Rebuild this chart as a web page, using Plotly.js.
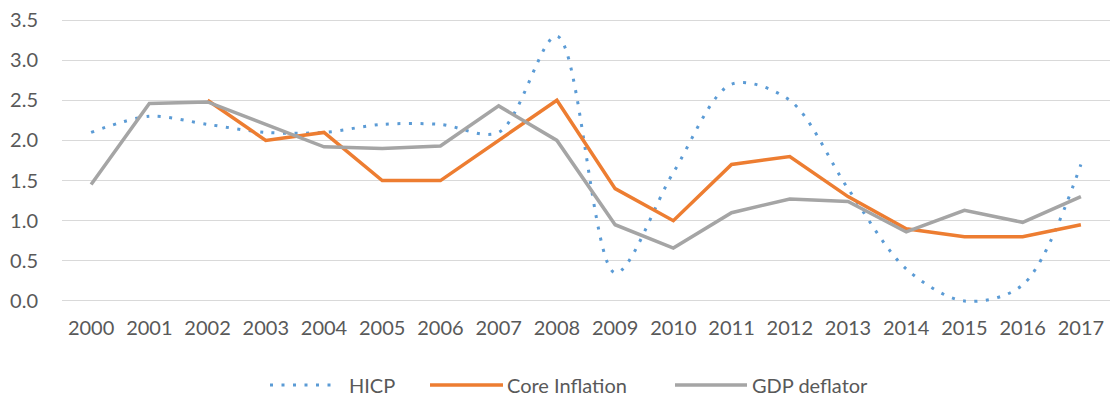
<!DOCTYPE html>
<html>
<head>
<meta charset="utf-8">
<script src="https://cdn.plot.ly/plotly-3.0.1.min.js"></script>
<style>
  html, body { margin: 0; padding: 0; background: #ffffff; }
  #chart { width: 1110px; height: 396px; }
</style>
</head>
<body>
<div id="chart"></div>
<script>
// Annual inflation measures, 2000-2017 (%)
const years = ['2000','2001','2002','2003','2004','2005','2006','2007','2008',
               '2009','2010','2011','2012','2013','2014','2015','2016','2017'];
const hicp = [2.1, 2.3, 2.2, 2.1, 2.1, 2.2, 2.2, 2.1, 3.3,
              0.35, 1.6, 2.7, 2.5, 1.4, 0.4, 0.0, 0.2, 1.7];
const coreInflation = [null, null, 2.5, 2.0, 2.1, 1.5, 1.5, 2.0, 2.5,
                       1.4, 1.0, 1.7, 1.8, 1.3, 0.9, 0.8, 0.8, 0.95];
const gdpDeflator = [1.45, 2.46, 2.48, 2.2, 1.92, 1.9, 1.93, 2.43, 2.0,
                     0.95, 0.66, 1.1, 1.27, 1.24, 0.86, 1.13, 0.98, 1.3];
const yTicks = [0, 0.5, 1, 1.5, 2, 2.5, 3, 3.5];
const yTickText = ['0.0','0.5','1.0','1.5','2.0','2.5','3.0','3.5'];
const seriesNames = ['HICP', 'Core Inflation', 'GDP deflator'];
const seriesColors = ['#5B9BD5', '#ED7D31', '#A5A5A5'];

const textColor = '#595959';
const fontFamily = 'Lato, "Open Sans", sans-serif';
const fontSize = 20;
const hicpDash = '3px,8.5px';

const traces = [
  {
    name: seriesNames[0], x: years, y: hicp, type: 'scatter', mode: 'lines',
    line: { color: seriesColors[0], width: 3, dash: hicpDash, shape: 'spline', smoothing: 0.9 }
  },
  {
    name: seriesNames[1], x: years, y: coreInflation, type: 'scatter', mode: 'lines',
    line: { color: seriesColors[1], width: 3.5 }
  },
  {
    name: seriesNames[2], x: years, y: gdpDeflator, type: 'scatter', mode: 'lines',
    line: { color: seriesColors[2], width: 3.5 }
  }
];

// Legend row below the axis: a long line sample followed by the series name.
// Positions are in pixels of the page, converted to paper fractions.
const W = 1110, H = 396;
const margin = { l: 62, r: 0, t: 16, b: 91 };
const plotW = W - margin.l - margin.r;
const plotH = H - margin.t - margin.b;
const px2x = p => (p - margin.l) / plotW;
const px2y = p => (H - margin.b - p) / plotH;
const legendRow = 385;
const legendItems = [
  { start: 270, end: 335, label: 347 },
  { start: 430, end: 503, label: 505 },
  { start: 675, end: 747, label: 750 }
];
const shapes = legendItems.map((it, i) => ({
  type: 'line', xref: 'paper', yref: 'paper',
  x0: px2x(it.start), x1: px2x(it.end), y0: px2y(legendRow), y1: px2y(legendRow),
  line: i === 0
    ? { color: seriesColors[i], width: 3, dash: hicpDash }
    : { color: seriesColors[i], width: 3.5 }
}));
const annotations = legendItems.map((it, i) => ({
  xref: 'paper', yref: 'paper', x: px2x(it.label), y: px2y(legendRow),
  xanchor: 'left', yanchor: 'middle', showarrow: false,
  text: seriesNames[i],
  font: { family: fontFamily, size: fontSize, color: textColor }
}));

const layout = {
  width: W, height: H, margin: margin,
  paper_bgcolor: '#ffffff', plot_bgcolor: '#ffffff',
  font: { family: fontFamily, size: fontSize, color: textColor },
  showlegend: false,
  shapes: shapes,
  annotations: annotations,
  xaxis: {
    type: 'category', range: [-0.5, 17.5], fixedrange: true,
    showgrid: false, showline: false, zeroline: false, ticks: '',
    ticklabelstandoff: 9,
    tickfont: { family: fontFamily, size: fontSize, color: textColor }
  },
  yaxis: {
    range: [-0.05, 3.55], fixedrange: true,
    tickvals: yTicks, ticktext: yTickText,
    showgrid: true, gridcolor: '#D9D9D9', gridwidth: 1,
    zeroline: false, showline: false, ticks: '',
    ticklabelstandoff: 23,
    tickfont: { family: fontFamily, size: fontSize, color: textColor }
  }
};

Plotly.newPlot('chart', traces, layout, { displayModeBar: false, staticPlot: true });
</script>
</body>
</html>
